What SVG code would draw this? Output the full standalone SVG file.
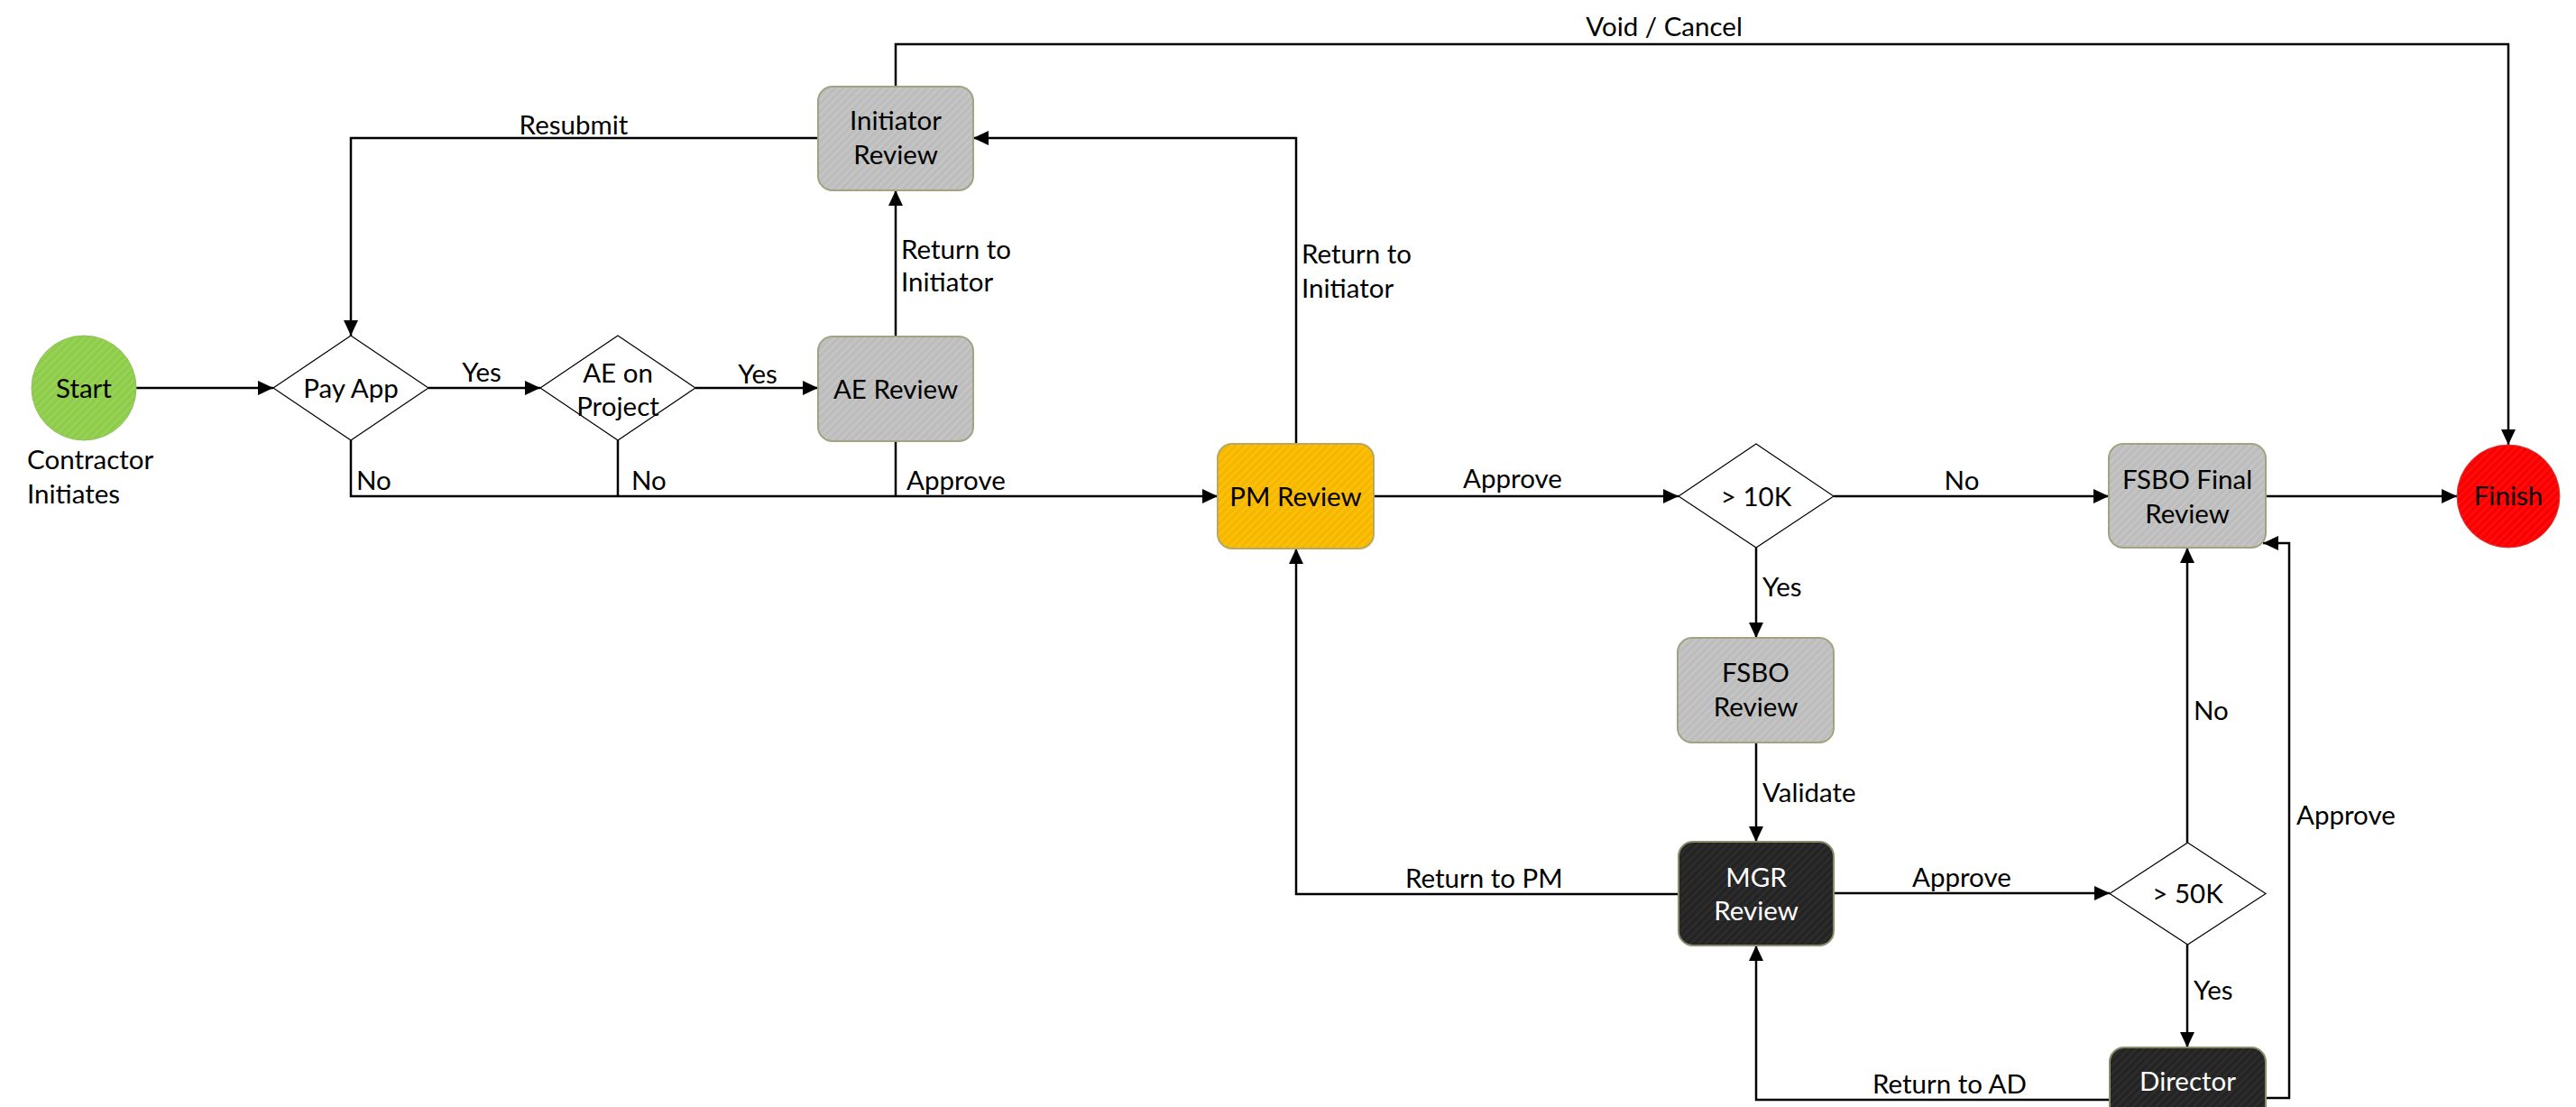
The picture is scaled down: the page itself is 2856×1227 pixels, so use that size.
<svg xmlns="http://www.w3.org/2000/svg" width="2856" height="1227" viewBox="0 0 2856 1227">
<style>
text{font-family:Lato,"Liberation Sans",sans-serif;font-size:29.5px;fill:#000}
.c{text-anchor:middle}
.w{fill:#fff}
.conn path{fill:none;stroke:#000;stroke-width:2.5}
.arr{marker-end:url(#ah)}
.dia{fill:#fff;stroke:#000;stroke-width:1.2}
.gray{fill:url(#pGray);stroke:#a3a384;stroke-width:2}
.gold{fill:url(#pGold);stroke:#b8a860;stroke-width:2}
.dark{fill:url(#pDark);stroke:#8c8c6c;stroke-width:2}
</style>
<defs>
<marker id="ah" markerUnits="userSpaceOnUse" markerWidth="18" markerHeight="16" refX="17" refY="8" orient="auto">
<path d="M0,0 L17,8 L0,16 z" fill="#000"/>
</marker>
<pattern id="pGray" width="6" height="6" patternUnits="userSpaceOnUse" patternTransform="rotate(45)">
<rect width="6" height="6" fill="#bdbdbd"/><rect width="2" height="6" fill="#c6c6c6"/>
</pattern>
<pattern id="pGold" width="6" height="6" patternUnits="userSpaceOnUse" patternTransform="rotate(45)">
<rect width="6" height="6" fill="#f5b700"/><rect width="2" height="6" fill="#ffc20a"/>
</pattern>
<pattern id="pDark" width="6" height="6" patternUnits="userSpaceOnUse" patternTransform="rotate(45)">
<rect width="6" height="6" fill="#242424"/><rect width="2" height="6" fill="#2e2e2e"/>
</pattern>
<pattern id="pGreen" width="6" height="6" patternUnits="userSpaceOnUse" patternTransform="rotate(45)">
<rect width="6" height="6" fill="#8fcc4c"/><rect width="2" height="6" fill="#98d456"/>
</pattern>
<pattern id="pRed" width="6" height="6" patternUnits="userSpaceOnUse" patternTransform="rotate(45)">
<rect width="6" height="6" fill="#fa0000"/><rect width="2" height="6" fill="#ff1010"/>
</pattern>
</defs>
<rect width="2856" height="1227" fill="#fff"/>

<g id="connectors" class="conn">
<path class="arr" d="M151,430 H303"/>
<path class="arr" d="M475,430 H599"/>
<path class="arr" d="M771,430 H907"/>
<path class="arr" d="M993,373 V211"/>
<path class="arr" d="M907,153 H389 V372"/>
<path class="arr" d="M993,96 V49 H2781 V493"/>
<path class="arr" d="M389,488 V550 H1350"/>
<path d="M685,488 V550"/>
<path d="M993,489 V550"/>
<path class="arr" d="M1437,492 V153 H1079"/>
<path class="arr" d="M1523,550 H1861"/>
<path class="arr" d="M2033,550 H2338"/>
<path class="arr" d="M2512,550 H2724"/>
<path class="arr" d="M1947,607 V707"/>
<path class="arr" d="M1947,823 V933"/>
<path class="arr" d="M1861,991 H1437 V608"/>
<path class="arr" d="M2033,990 H2339"/>
<path class="arr" d="M2425,934 V607"/>
<path class="arr" d="M2425,1047 V1161"/>
<path class="arr" d="M2339,1219 H1947 V1048"/>
<path class="arr" d="M2512,1217 H2538 V602 H2509"/>
<text class="c" x="534" y="423">Yes</text>
<text class="c" x="840" y="425">Yes</text>
<text x="999" y="287">Return to</text>
<text x="999" y="323">Initiator</text>
<text class="c" x="636" y="149">Resubmit</text>
<text class="c" x="1845" y="40">Void / Cancel</text>
<text x="395" y="543">No</text>
<text x="700" y="543">No</text>
<text x="1005" y="543">Approve</text>
<text x="1443" y="292">Return to</text>
<text x="1443" y="330">Initiator</text>
<text class="c" x="1677" y="541">Approve</text>
<text class="c" x="2175" y="543">No</text>
<text x="1954" y="661">Yes</text>
<text x="1954" y="889">Validate</text>
<text x="1558" y="984">Return to PM</text>
<text x="2120" y="983">Approve</text>
<text x="2432" y="798">No</text>
<text x="2432" y="1108">Yes</text>
<text x="2076" y="1212">Return to AD</text>
<text x="2546" y="914">Approve</text>
</g>

<g id="start">
<circle cx="93" cy="430" r="58" fill="url(#pGreen)" stroke="#8fbf60" stroke-width="1"/>
<text class="c" x="93" y="441">Start</text>
<text x="30" y="520">Contractor</text>
<text x="30" y="558">Initiates</text>
</g>
<g id="pay-app">
<polygon class="dia" points="389,372 475,430 389,488 303,430"/>
<text class="c" x="389" y="441">Pay App</text>
</g>
<g id="ae-on-project">
<polygon class="dia" points="685,372 771,430 685,488 599,430"/>
<text class="c" x="685" y="424">AE on</text>
<text class="c" x="685" y="461">Project</text>
</g>
<g id="ae-review">
<rect class="gray" x="907" y="373" width="172" height="116" rx="16"/>
<text class="c" x="993" y="442">AE Review</text>
</g>
<g id="initiator-review">
<rect class="gray" x="907" y="96" width="172" height="115" rx="16"/>
<text class="c" x="993" y="144">Initiator</text>
<text class="c" x="993" y="182">Review</text>
</g>
<g id="pm-review">
<rect class="gold" x="1350" y="492" width="173" height="116" rx="16"/>
<text class="c" x="1436.5" y="561">PM Review</text>
</g>
<g id="gt-10k">
<polygon class="dia" points="1947,492 2033,550 1947,607 1861,550"/>
<text class="c" x="1947" y="561">&gt; 10K</text>
</g>
<g id="fsbo-final-review">
<rect class="gray" x="2338" y="492" width="174" height="115" rx="16"/>
<text class="c" x="2425" y="542">FSBO Final</text>
<text class="c" x="2425" y="580">Review</text>
</g>
<g id="finish">
<circle cx="2781" cy="550" r="57" fill="url(#pRed)" stroke="#d04040" stroke-width="1"/>
<text class="c" x="2781" y="560">Finish</text>
</g>
<g id="fsbo-review">
<rect class="gray" x="1860" y="707" width="173" height="116" rx="16"/>
<text class="c" x="1946.5" y="756">FSBO</text>
<text class="c" x="1946.5" y="794">Review</text>
</g>
<g id="mgr-review">
<rect class="dark" x="1861" y="933" width="172" height="115" rx="16"/>
<text class="c w" x="1947" y="983">MGR</text>
<text class="c w" x="1947" y="1020">Review</text>
</g>
<g id="gt-50k">
<polygon class="dia" points="2425.5,934 2512,990.5 2425.5,1047 2339,990.5"/>
<text class="c" x="2425.5" y="1001">&gt; 50K</text>
</g>
<g id="director">
<rect class="dark" x="2339" y="1161" width="173" height="116" rx="16"/>
<text class="c w" x="2425.5" y="1209">Director</text>
</g>
</svg>
